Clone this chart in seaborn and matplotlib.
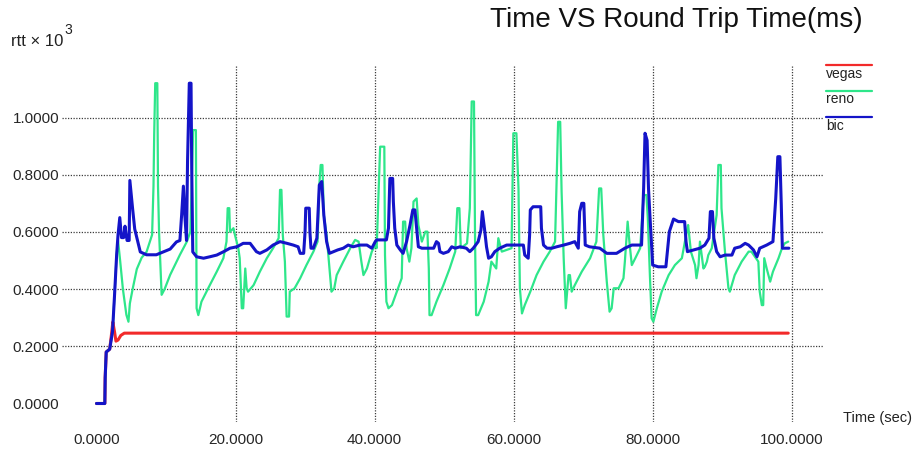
import matplotlib
matplotlib.use("Agg")
import matplotlib.pyplot as plt
from matplotlib.lines import Line2D
import pandas as pd
import seaborn as sns

# ---- data (rtt in units of 10^3, time in seconds) ----
vegas_time = [0.0, 1.2, 1.25, 1.4, 1.9, 2.15, 2.35, 2.6, 2.8, 3.1, 3.5, 4.0, 99.5]
vegas_rtt = [0.0, 0.0, 0.09, 0.18, 0.19, 0.24, 0.285, 0.25, 0.218, 0.222, 0.238, 0.246, 0.246]

reno_time = [
    0.0, 1.2, 1.25, 1.4, 1.9, 2.3, 2.6, 2.9, 3.1, 3.4, 3.8, 4.3, 4.6, 4.8, 5.2, 5.8,
    6.5, 7.2, 8.0, 8.2, 8.3, 8.45, 8.75, 8.85, 9.0, 9.37, 9.8, 10.6, 12.0, 13.0, 13.5,
    13.7, 13.9, 14.3, 14.4, 14.65, 15.1, 16.3, 17.3, 18.25, 18.7, 18.87, 19.1, 19.2,
    19.7, 19.92, 20.4, 20.6, 20.9, 21.1, 21.4, 21.6, 21.8, 22.6, 23.5, 24.5, 25.4,
    26.2, 26.4, 26.6, 26.8, 27.1, 27.35, 27.7, 27.8, 28.5, 29.3, 30.2, 31.2, 31.8,
    32.05, 32.25, 32.5, 32.7, 33.1, 33.6, 33.8, 34.2, 34.55, 35.5, 36.5, 37.2, 37.7,
    38.1, 38.4, 38.9, 39.6, 40.1, 40.3, 40.5, 40.8, 41.4, 41.5, 41.7, 42.0, 42.5,
    43.2, 43.9, 44.1, 44.4, 44.6, 45.0, 45.3, 45.6, 46.05, 46.3, 46.8, 47.3, 47.6,
    47.8, 47.9, 48.2, 48.9, 49.9, 50.8, 51.6, 51.9, 52.2, 52.4, 53.3, 53.7, 53.97,
    54.3, 54.45, 54.6, 54.9, 55.7, 56.4, 56.8, 57.5, 57.8, 58.3, 59.0, 59.7, 59.96,
    60.4, 60.7, 60.9, 61.2, 61.6, 62.4, 63.3, 64.3, 65.2, 65.96, 66.2, 66.4, 66.7,
    66.9, 67.2, 67.5, 67.9, 68.1, 68.35, 68.8, 69.8, 71.0, 71.9, 72.3, 72.6, 72.9,
    73.4, 73.8, 74.1, 74.4, 75.1, 75.8, 76.0, 76.4, 76.65, 77.0, 77.5, 78.2, 78.7,
    79.1, 79.3, 79.6, 79.85, 80.1, 80.6, 81.3, 82.3, 83.2, 84.2, 84.9, 85.1, 85.5,
    85.8, 86.1, 86.3, 86.6, 86.8, 87.05, 87.3, 87.5, 87.8, 88.0, 88.5, 89.2, 89.45,
    89.8, 89.9, 90.4, 90.9, 91.1, 91.8, 92.8, 93.8, 94.2, 95.2, 95.4, 95.7, 95.9,
    96.05, 96.4, 96.9, 97.3, 98.1, 98.6, 99.0, 99.5,
]
reno_rtt = [
    0.0, 0.0, 0.09, 0.18, 0.19, 0.25, 0.38, 0.52, 0.57, 0.50, 0.40, 0.31, 0.286, 0.35, 0.40, 0.47,
    0.51, 0.53, 0.59, 0.76, 0.94, 1.12, 1.12, 0.76, 0.60, 0.38, 0.40, 0.45, 0.52, 0.566, 0.60,
    0.764, 0.956, 0.956, 0.333, 0.309, 0.356, 0.414, 0.461, 0.508, 0.566, 0.683, 0.683, 0.60,
    0.613, 0.589, 0.543, 0.508, 0.333, 0.333, 0.472, 0.403, 0.391, 0.414, 0.461, 0.508, 0.543,
    0.578, 0.747, 0.747, 0.589, 0.496, 0.304, 0.304, 0.391, 0.403, 0.438, 0.484, 0.531, 0.566,
    0.764, 0.834, 0.834, 0.659, 0.589, 0.449, 0.391, 0.403, 0.449, 0.496, 0.543, 0.572, 0.566,
    0.496, 0.449, 0.472, 0.531, 0.554, 0.543, 0.683, 0.898, 0.898, 0.519, 0.356, 0.333, 0.344,
    0.391, 0.438, 0.636, 0.636, 0.543, 0.496, 0.543, 0.706, 0.717, 0.624, 0.566, 0.601, 0.601,
    0.472, 0.309, 0.309, 0.356, 0.414, 0.472, 0.531, 0.683, 0.683, 0.543, 0.56, 0.683, 1.056,
    1.056, 0.578, 0.309, 0.309, 0.356, 0.426, 0.496, 0.472, 0.578, 0.531, 0.537, 0.543, 0.945,
    0.945, 0.752, 0.403, 0.315, 0.344, 0.391, 0.449, 0.496, 0.531, 0.566, 0.787, 0.985, 0.985,
    0.741, 0.508, 0.333, 0.449, 0.449, 0.391, 0.414, 0.461, 0.508, 0.566, 0.752, 0.752, 0.589,
    0.426, 0.321, 0.333, 0.403, 0.403, 0.438, 0.496, 0.636, 0.566, 0.484, 0.508, 0.543, 0.729,
    0.729, 0.648, 0.449, 0.298, 0.286, 0.333, 0.391, 0.449, 0.484, 0.508, 0.601, 0.624, 0.531,
    0.508, 0.484, 0.438, 0.484, 0.566, 0.519, 0.472, 0.478, 0.496, 0.519, 0.543, 0.659, 0.834,
    0.834, 0.683, 0.531, 0.403, 0.391, 0.449, 0.496, 0.531, 0.531, 0.496, 0.391, 0.344, 0.344,
    0.508, 0.472, 0.426, 0.461, 0.508, 0.543, 0.56, 0.566,
]

bic_time = [
    0.0, 1.2, 1.25, 1.4, 1.9, 2.3, 2.6, 2.9, 3.1, 3.35, 3.6, 3.9, 4.1, 4.4, 4.7, 4.8,
    5.2, 5.5, 5.8, 6.3, 7.2, 8.6, 9.6, 10.6, 11.5, 12.0, 12.25, 12.5, 12.7, 12.95, 13.1,
    13.35, 13.6, 13.7, 13.85, 14.4, 15.4, 16.3, 17.3, 18.3, 19.2,
    20.2, 21.1, 22.1, 23.0, 23.5, 24.5, 25.4, 26.4, 27.4, 28.3, 29.0, 29.3, 29.8, 30.0,
    30.1, 30.6, 30.7, 30.85, 31.2, 31.7, 32.05, 32.4, 32.7, 33.1, 33.5, 34.7, 35.5, 36.2,
    36.9, 37.9, 38.9, 39.6, 40.1,
    40.3, 41.7, 42.0, 42.2, 42.6, 42.7, 42.9, 43.2, 43.7, 44.1, 44.6, 45.1, 45.5, 45.8,
    46.1, 46.3, 46.8, 47.7, 48.5, 48.9, 49.2, 49.4, 49.9, 50.6, 51.1, 51.6, 52.3, 53.2,
    53.7, 54.2, 54.9, 55.3, 55.5, 55.8, 56.1, 56.4, 56.8, 57.3, 58.0, 59.0, 59.9,
    61.4, 61.6, 62.1, 62.3, 62.4, 62.8, 63.9, 64.0, 64.3, 64.8, 65.5, 66.2, 67.2, 68.1,
    68.8, 69.3, 69.5, 69.8, 70.1, 70.3, 70.9, 72.4, 73.4, 74.8, 76.0, 77.0, 78.4, 78.7,
    78.9, 79.2, 79.4, 79.6, 80.0, 80.8, 81.9, 82.2, 82.4, 83.0, 83.7, 84.6, 84.8, 85.0,
    85.9, 86.8, 87.5, 88.1, 88.3, 88.6, 88.8, 89.2, 89.7, 90.4, 91.4, 91.8, 92.6, 93.3,
    93.8, 94.5, 95.0, 95.4, 96.4, 97.3, 97.7, 98.0, 98.3, 98.5, 98.65, 99.6,
]
bic_rtt = [
    0.0, 0.0, 0.09, 0.18, 0.19, 0.25, 0.38, 0.52, 0.59, 0.65, 0.58, 0.58, 0.62, 0.57, 0.57, 0.78,
    0.68, 0.61, 0.58, 0.53, 0.52, 0.52, 0.53, 0.54, 0.565, 0.57, 0.66, 0.76, 0.66, 0.57, 0.85,
    1.12, 1.12, 0.82, 0.53, 0.513, 0.508, 0.513, 0.519, 0.531, 0.543,
    0.548, 0.56, 0.56, 0.531, 0.525, 0.537, 0.554, 0.566, 0.56, 0.554, 0.548, 0.525, 0.525, 0.60,
    0.683, 0.683, 0.60, 0.543, 0.543, 0.578, 0.764, 0.776, 0.659, 0.566, 0.525, 0.537, 0.543, 0.554,
    0.548, 0.554, 0.554, 0.543, 0.566,
    0.572, 0.572, 0.613, 0.787, 0.787, 0.706, 0.613, 0.554, 0.537, 0.525, 0.566, 0.624, 0.677, 0.677,
    0.601, 0.548, 0.543, 0.543, 0.543, 0.566, 0.56, 0.531, 0.525, 0.531, 0.548, 0.543, 0.548, 0.543,
    0.531, 0.543, 0.566, 0.607, 0.671, 0.613, 0.548, 0.508, 0.513, 0.531, 0.543, 0.554, 0.554,
    0.554, 0.519, 0.508, 0.589, 0.677, 0.688, 0.688, 0.613, 0.554, 0.543, 0.543, 0.548, 0.554, 0.56,
    0.566, 0.543, 0.671, 0.70, 0.70, 0.554, 0.548, 0.543, 0.525, 0.525, 0.543, 0.554, 0.554, 0.752,
    0.945, 0.92, 0.752, 0.659, 0.484, 0.478, 0.478, 0.554, 0.601, 0.645, 0.636, 0.636, 0.566, 0.531,
    0.537, 0.543, 0.554, 0.578, 0.671, 0.671, 0.578, 0.531, 0.513, 0.519, 0.519, 0.543, 0.548, 0.56,
    0.554, 0.537, 0.513, 0.543, 0.554, 0.566, 0.717, 0.863, 0.863, 0.694, 0.543, 0.543,
]

x_ticks = [0, 20, 40, 60, 80, 100]
y_ticks = [0.0, 0.2, 0.4, 0.6, 0.8, 1.0]

series_names = ["vegas", "reno", "bic"]
series_colors = {"vegas": "#f22a2a", "reno": "#2ee68a", "bic": "#1414c8"}
series_widths = {"vegas": 2.2, "reno": 1.6, "bic": 2.2}

frames = {
    "vegas": pd.DataFrame({"time": vegas_time, "rtt": vegas_rtt}),
    "reno": pd.DataFrame({"time": reno_time, "rtt": reno_rtt}),
    "bic": pd.DataFrame({"time": bic_time, "rtt": bic_rtt}),
}

# ---- styling ----
sns.set_style("white")
plt.rcParams["font.family"] = ["Liberation Sans", "DejaVu Sans"]

W, H = 919, 451
fig = plt.figure(figsize=(W / 100, H / 100), dpi=100)
fig.patch.set_facecolor("white")


def fx(px):
    return px / W


def fy(py):
    return 1 - py / H


ax = fig.add_axes([fx(62), fy(422), fx(823) - fx(62), fy(65) - fy(422)])
ax.set_xlim(-4.96, 104.5)
ax.set_ylim(-0.0647, 1.1836)

# dotted grid (none along the zero lines)
grid_kw = dict(color="#3c3c3c", linestyle=(0, (1, 1.2)), linewidth=0.9, zorder=0)
for xv in x_ticks[1:]:
    ax.axvline(xv, **grid_kw)
for yv in y_ticks[1:]:
    ax.axhline(yv, **grid_kw)

for name in series_names:
    sns.lineplot(
        data=frames[name], x="time", y="rtt", ax=ax, sort=False, estimator=None,
        color=series_colors[name], linewidth=series_widths[name], zorder=3,
    )

for side in ["left", "right", "top", "bottom"]:
    ax.spines[side].set_visible(False)
ax.set_xticks(x_ticks)
ax.set_yticks(y_ticks)
ax.set_xticklabels([f"{v:.4f}" for v in x_ticks], fontsize=11)
ax.set_yticklabels([f"{v:.4f}" for v in y_ticks], fontsize=11)
ax.tick_params(axis="x", length=0, pad=8)
ax.tick_params(axis="y", length=0, pad=2)
ax.set_xlabel("")
ax.set_ylabel("")

# title and axis captions
fig.text(fx(490), fy(20), "Time VS Round Trip Time(ms)", fontsize=20,
         ha="left", va="center", color="#111111")
ylab = fig.text(fx(11), fy(42), "rtt \u00d7 10", fontsize=12, ha="left",
                va="center", color="#222222")
ax.annotate("3", xy=(1.0, 0.85), xycoords=ylab, xytext=(1, 0),
            textcoords="offset points", fontsize=10, ha="left", va="bottom",
            color="#222222")
fig.text(fx(843), fy(418), "Time (sec)", fontsize=10.5, ha="left",
         va="center", color="#222222")

# legend: colour bar above each name
legend_rows = [(65, 74), (91, 99), (117, 126)]
for name, (line_y, text_y) in zip(series_names, legend_rows):
    fig.add_artist(Line2D([fx(826), fx(872)], [fy(line_y), fy(line_y)],
                          color=series_colors[name], linewidth=1.6,
                          transform=fig.transFigure))
    fig.text(fx(826), fy(text_y), name, fontsize=10, ha="left",
             va="center", color="#222222")

fig.savefig("out.png", dpi=100, facecolor="white")
